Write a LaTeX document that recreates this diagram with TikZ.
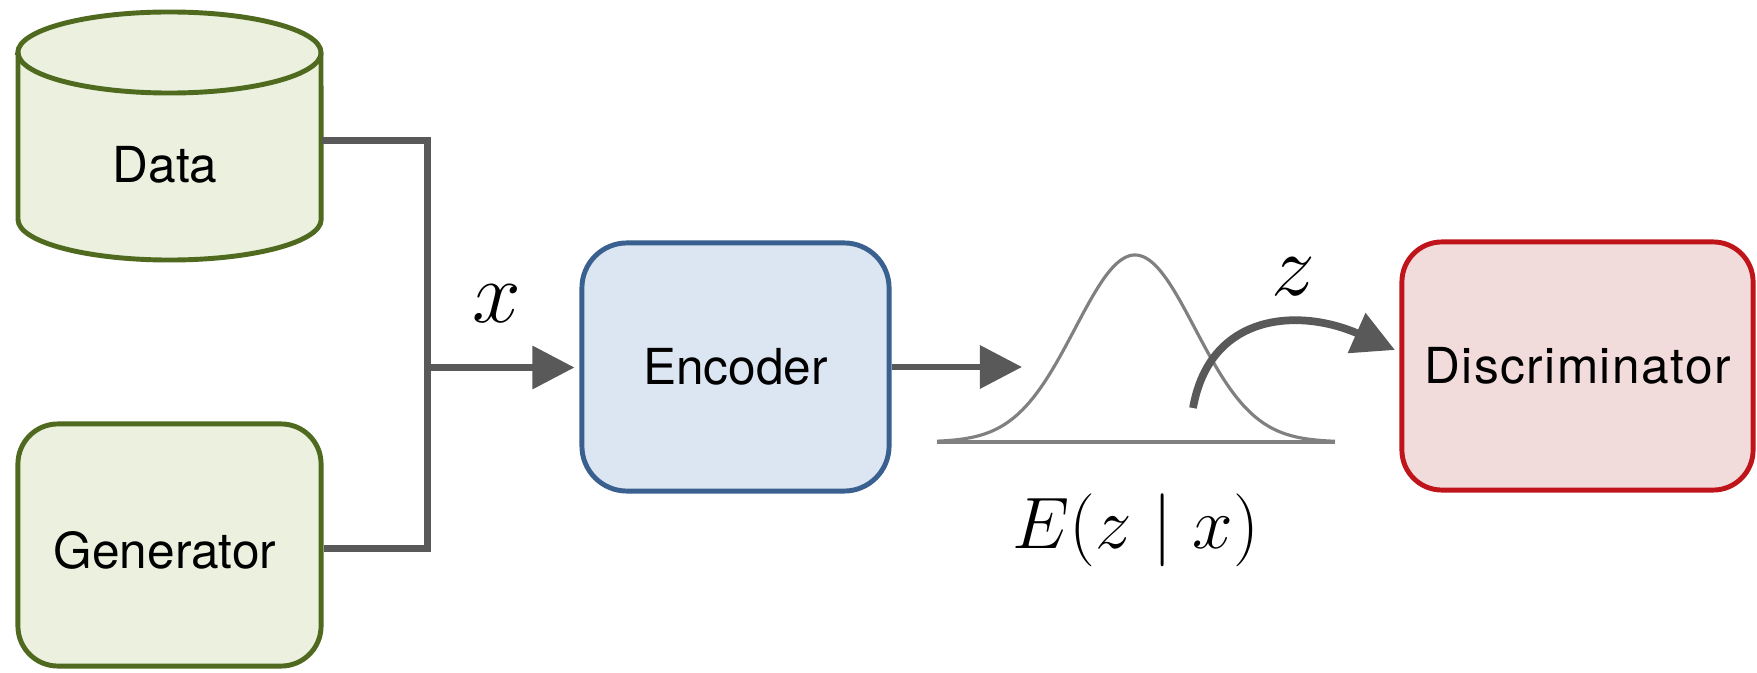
\documentclass[tikz,border=0pt]{standalone}
\usepackage{fontspec}
\setmainfont{TeX Gyre Heros}
\usetikzlibrary{arrows.meta}

\definecolor{greenline}{HTML}{4F6A1E}
\definecolor{greenfill}{HTML}{EBF1DE}
\definecolor{blueline}{HTML}{3A6090}
\definecolor{bluefill}{HTML}{DCE6F2}
\definecolor{redline}{HTML}{C0141B}
\definecolor{redfill}{HTML}{F2DCDB}
\definecolor{wirecol}{HTML}{595959}
\definecolor{bellcol}{HTML}{808080}

\begin{document}
\begin{tikzpicture}[x=0.01cm, y=-0.01cm,
  box/.style={rectangle, rounded corners=0.42cm, line width=1.4pt, inner sep=0pt,
              font=\fontsize{14.1}{16}\selectfont},
  lbl/.style={inner sep=0pt, font=\fontsize{14.1}{16}\selectfont},
  mathlbl/.style={inner sep=0pt, font=\fontsize{27}{30}\selectfont},
  wire/.style={draw=wirecol, line width=1.85pt},
  headtip/.style={-{Triangle[length=0.42cm, width=0.42cm]}},
  bell/.style={draw=bellcol, line width=0.9pt}]

\useasboundingbox (0,0) rectangle (1757,673);

% ---- Data store (cylinder) ----
\filldraw[fill=greenfill, draw=greenline, line width=1.4pt]
  (18,52.5) -- (18,219.5)
  arc[start angle=180, end angle=360, x radius=1.515cm, y radius=0.405cm]
  -- (321,52.5)
  arc[start angle=0, end angle=180, x radius=1.515cm, y radius=0.405cm]
  -- cycle;
\draw[draw=greenline, line width=1.4pt]
  (18,52.5) arc[start angle=180, end angle=360, x radius=1.515cm, y radius=0.405cm];
\node[inner sep=0pt, minimum width=3.03cm, minimum height=2.4cm] (data) at (169.5,140.5) {};
\node[lbl, anchor=base] (datalabel) at (165,183) {Data};

% ---- Generator ----
\node[box, draw=greenline, fill=greenfill, minimum width=3.03cm, minimum height=2.42cm,
      rounded corners=0.4cm] (gen) at (169.5,545) {};
\node[lbl, anchor=base] (genlabel) at (165,568) {Generator};

% ---- Encoder and discriminator ----
\node[box, draw=blueline, fill=bluefill, minimum width=3.07cm, minimum height=2.48cm,
      rounded corners=0.45cm] (enc) at (735.5,367) {Encoder};
\node[box, draw=redline, fill=redfill, minimum width=3.51cm, minimum height=2.48cm,
      rounded corners=0.4cm] (disc) at (1577.5,366)
      {\addfontfeature{LetterSpace=3}Discriminator};

% ---- Merging the two inputs ----
\coordinate (join) at (427.5,367.5);
\draw[wire] (data.east) -| (join) |- ([yshift=-0.035cm]gen.east);
\draw[wire, headtip, shorten >=0.05cm] (join) -- (enc.west |- join);
\node[mathlbl, anchor=base] (xlabel) at (497,322) {$x$};

% ---- Latent distribution ----
\coordinate (distin) at (1022,367);
\draw[wire, headtip] (enc.east) -- (distin);
\draw[bell] (937,442) -- (1335,442);
\draw[bell] plot[domain=937:1335, samples=140, smooth]
  (\x, {442-187*exp(-((\x-1135)/60)^2/2)});
\node[inner sep=0pt, font=\fontsize{22.8}{26}\selectfont, anchor=base] (elabel)
  at (1136,548) {$E(z \mid x)$};

% ---- Sample passed to the discriminator ----
\coordinate (zstart) at (1193,408);
\coordinate (zend) at (1395,350);
\draw[wire, line width=2.2pt, headtip]
  (zstart) .. controls (1210,312) and (1300,308) .. (zend);
\node[mathlbl, anchor=base] (zlabel) at (1293,295) {$z$};

\end{tikzpicture}
\end{document}
